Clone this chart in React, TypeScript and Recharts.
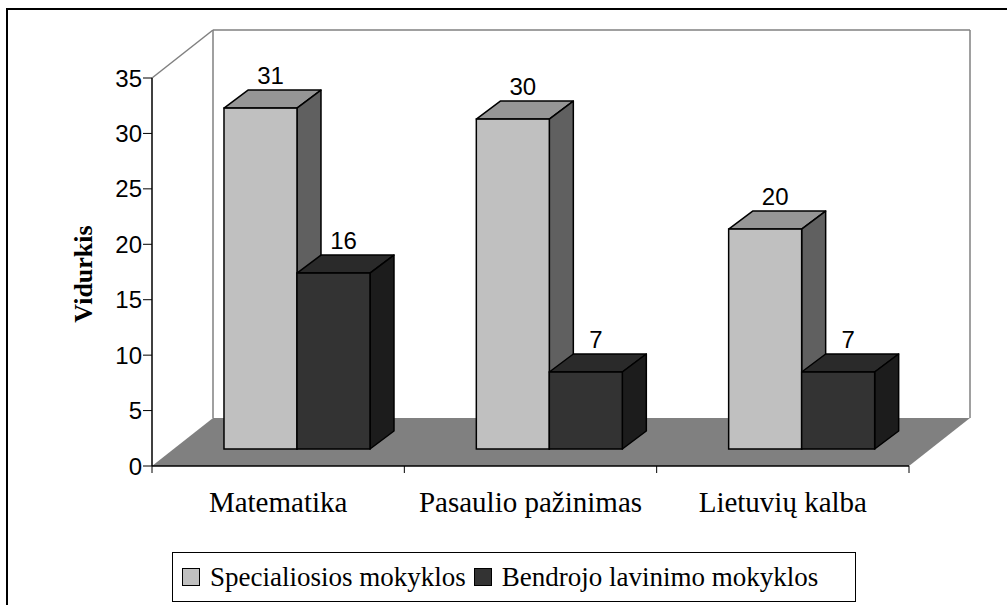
import React from "react";
import { BarChart, Bar, XAxis, YAxis, ReferenceArea } from "recharts";

const categories = ["Matematika", "Pasaulio pažinimas", "Lietuvių kalba"];
const specialiosios = [31, 30, 20];
const bendrojo = [16, 7, 7];
const yTicks = [0, 5, 10, 15, 20, 25, 30, 35];
const seriesNames = ["Specialiosios mokyklos", "Bendrojo lavinimo mokyklos"];

const data = categories.map((name, i) => ({
  name,
  spec: specialiosios[i],
  bendr: bendrojo[i],
}));

// 3D look: shift of bar front from the axis plane, bar depth, wall depth
const FRONT_DX = 19;
const FRONT_DY = -17;
const DEPTH_DX = 24;
const DEPTH_DY = -18;
const WALL_DX = 61;
const WALL_DY = -48;

const lightColors = { front: "#C0C0C0", top: "#969696", side: "#606060" };
const darkColors = { front: "#333333", top: "#2A2A2A", side: "#1C1C1C" };

const Box3D = (props: any) => {
  const { x, y, width, height, colors, dataKey, payload } = props;
  const h = height * 0.992;
  const bottom = y + height + FRONT_DY;
  const fx = x + FRONT_DX;
  const fy = bottom - h;
  const w = width;
  const value = payload ? payload[dataKey] : props.value;
  return (
    <g>
      <polygon
        points={`${fx},${fy} ${fx + DEPTH_DX},${fy + DEPTH_DY} ${fx + w + DEPTH_DX},${fy + DEPTH_DY} ${fx + w},${fy}`}
        fill={colors.top}
        stroke="#000"
        strokeWidth={1.5}
        strokeLinejoin="round"
      />
      <polygon
        points={`${fx + w},${fy} ${fx + w + DEPTH_DX},${fy + DEPTH_DY} ${fx + w + DEPTH_DX},${bottom + DEPTH_DY} ${fx + w},${bottom}`}
        fill={colors.side}
        stroke="#000"
        strokeWidth={1.5}
        strokeLinejoin="round"
      />
      <rect x={fx} y={fy} width={w} height={h} fill={colors.front} stroke="#000" strokeWidth={1.5} />
      <text
        x={fx + w / 2 + DEPTH_DX / 2 - 2}
        y={fy + DEPTH_DY - 6}
        textAnchor="middle"
        fontFamily="'Liberation Sans', Arial, sans-serif"
        fontSize={24}
        fill="#000"
      >
        {value}
      </text>
    </g>
  );
};

// floor, back walls and the category boundary ticks, drawn from the plot rectangle
const Backdrop = (props: any) => {
  const { x, y, width, height } = props;
  const b = y + height;
  const gx = x + WALL_DX;
  const gy = y + WALL_DY;
  const fb = b + WALL_DY;
  const n = categories.length;
  return (
    <g>
      <rect x={7} y={9} width={1200} height={800} fill="none" stroke="#000" strokeWidth={2} />
      <line x1={x} y1={y} x2={gx} y2={gy} stroke="#808080" strokeWidth={1.5} />
      <line x1={gx} y1={gy} x2={x + width + WALL_DX} y2={gy} stroke="#808080" strokeWidth={1.5} />
      <line x1={gx} y1={gy} x2={gx} y2={fb} stroke="#808080" strokeWidth={1.5} />
      <line
        x1={x + width + WALL_DX}
        y1={gy}
        x2={x + width + WALL_DX}
        y2={fb}
        stroke="#808080"
        strokeWidth={1.5}
      />
      <polygon
        points={`${x},${b} ${x + width},${b} ${x + width + WALL_DX},${fb} ${gx},${fb}`}
        fill="#808080"
      />
      {Array.from({ length: n + 1 }).map((_, i) => (
        <line
          key={i}
          x1={x + (width * i) / n}
          y1={b}
          x2={x + (width * i) / n}
          y2={b + 7}
          stroke="#000"
          strokeWidth={1}
        />
      ))}
    </g>
  );
};

const YTitle = (props: any) => {
  const vb = props.viewBox || {};
  const cx = vb.x + 11;
  const cy = vb.y + vb.height / 2 + 2;
  return (
    <text
      x={cx}
      y={cy}
      transform={`rotate(-90, ${cx}, ${cy})`}
      textAnchor="middle"
      dominantBaseline="central"
      fontFamily="'Liberation Serif', 'Times New Roman', serif"
      fontWeight="bold"
      fontSize={26}
      fill="#000"
    >
      Vidurkis
    </text>
  );
};

const legendColors = [lightColors.front, darkColors.front];

const App = () => {
  return (
    <div style={{ position: "absolute", left: 0, top: 0, width: 1007, height: 605, background: "#fff" }}>
      <BarChart
        width={1007}
        height={605}
        data={data}
        margin={{ top: 78, right: 98, left: 72, bottom: 79 }}
        barCategoryGap="21%"
        barGap={0}
      >
        <ReferenceArea y1={0} y2={35} shape={<Backdrop />} ifOverflow="visible" />
        <XAxis
          dataKey="name"
          height={60}
          tickLine={false}
          tickSize={6}
          tickMargin={19}
          axisLine={{ stroke: "#000", strokeWidth: 1.5 }}
          tick={{ fontFamily: "'Liberation Serif', 'Times New Roman', serif", fontSize: 29, fill: "#000" }}
          interval={0}
        />
        <YAxis
          width={80}
          domain={[0, 35]}
          ticks={yTicks}
          interval={0}
          tickSize={9}
          tickMargin={1}
          tickLine={{ stroke: "#000" }}
          axisLine={{ stroke: "#000", strokeWidth: 1.5 }}
          tick={{ fontFamily: "'Liberation Sans', Arial, sans-serif", fontSize: 24, fill: "#000" }}
          label={<YTitle />}
        />
        <Bar
          dataKey="spec"
          name={seriesNames[0]}
          fill={lightColors.front}
          isAnimationActive={false}
          shape={(p: any) => <Box3D {...p} colors={lightColors} dataKey="spec" />}
        />
        <Bar
          dataKey="bendr"
          name={seriesNames[1]}
          fill={darkColors.front}
          isAnimationActive={false}
          shape={(p: any) => <Box3D {...p} colors={darkColors} dataKey="bendr" />}
        />
      </BarChart>
      <div
        style={{
          position: "absolute",
          left: 172,
          top: 552,
          width: 684,
          height: 50,
          boxSizing: "border-box",
          border: "1.5px solid #000",
          display: "flex",
          alignItems: "center",
          fontFamily: "'Liberation Serif', 'Times New Roman', serif",
          fontSize: 27,
          color: "#000",
          whiteSpace: "nowrap",
        }}
      >
        {seriesNames.map((s, i) => (
          <div key={s} style={{ display: "flex", alignItems: "center", marginLeft: i === 0 ? 9 : 8 }}>
            <span
              style={{
                display: "inline-block",
                width: 16,
                height: 16,
                background: legendColors[i],
                border: "1.5px solid #000",
                marginRight: 10,
              }}
            />
            <span>{s}</span>
          </div>
        ))}
      </div>
    </div>
  );
};

export default App;
